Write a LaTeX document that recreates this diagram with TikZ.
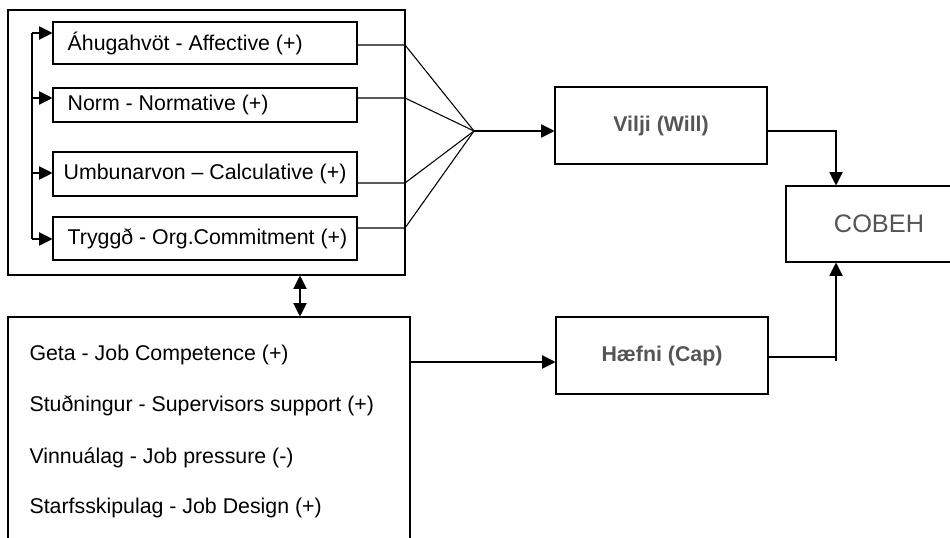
\documentclass[tikz,border=0pt]{standalone}
\usepackage{fontspec}
\setmainfont{Liberation Sans}
\usetikzlibrary{arrows.meta}
\definecolor{labelgray}{HTML}{555555}
\newcommand{\boxtext}[1]{\makebox[206pt][l]{#1}}

\begin{document}
\begin{tikzpicture}[x=0.75pt, y=-0.75pt, line width=0.8pt,
    >={Triangle[length=10pt,width=10pt]},
    box/.style={draw, minimum width=228pt, inner xsep=11pt, font=\fontsize{16}{19}\selectfont},
    frame/.style={draw, inner sep=0pt},
    mid/.style={draw, minimum width=159pt, minimum height=57.75pt, text=labelgray, font=\bfseries\fontsize{16}{19}\selectfont},
    item/.style={anchor=west, inner sep=0pt, font=\fontsize{16}{19}\selectfont}]
				\useasboundingbox (0,0) rectangle (950,538);
				\node [frame, minimum width=297.75pt, minimum height=198.75pt] (motives) at (206.5,142.5) {};
				\node [frame, minimum width=301.5pt, minimum height=189.75pt] (skills) at (209,443.5) {};
				\node [box, minimum height=31.5pt] (aff) at (205,43) {\boxtext{Áhugahvöt - Affective (+)}};
				\node [box, minimum height=25.5pt] (norm) at (205,105) {\boxtext{Norm - Normative (+)}};
				\node [box, minimum height=33pt] (calc) at (205,174) {\boxtext{\hspace{-3pt}Umbunarvon – Calculative (+)}};
				\node [box, minimum height=32.25pt] (org) at (205,238.5) {\boxtext{Tryggð - Org.Commitment (+)}};
				\node [item] (geta) at (29,355) {Geta - Job Competence (+)};
				\node [item] (stud) at (29,406) {Stuðningur - Supervisors support (+)};
				\node [item] (vinna) at (29,458) {Vinnuálag - Job pressure (-)};
				\node [item] (starf) at (29,508) {Starfsskipulag - Job Design (+)};
				\node [mid] (will) at (661,125.5) {Vilji (Will)};
				\node [mid] (cap) at (662,355.5) {Hæfni (Cap)};
				\node [draw, minimum width=139.5pt, minimum height=57pt, text=labelgray, font=\fontsize{19}{22}\selectfont] (cobeh) at (879,224) {COBEH};
				\coordinate (fan) at (474,131);
				\coordinate (rail) at (32,33);
				\draw (rail) -- (32,239);
				\draw [->] (rail) -- (aff.west |- rail);
				\draw [->] (32,98) -- (norm.west |- 0,98);
				\draw [->] (32,173) -- (calc.west |- 0,173);
				\draw [->] (32,239) -- (org.west |- 0,239);
				\draw (aff.east |- 0,45) -- (405,45) -- (fan);
				\draw (norm.east |- 0,98) -- (405,98) -- (fan);
				\draw (calc.east |- 0,183) -- (405,183) -- (fan);
				\draw (org.east |- 0,228) -- (405,228) -- (fan);
				\draw [->] (fan) -- (will.west |- fan);
				\draw [<->] (motives.south -| 300,0) -- (skills.north -| 300,0);
				\draw [->] (skills.east |- 0,362) -- (cap.west |- 0,362);
				\draw [->] (will.east |- fan) -- (836,131) -- (cobeh.north -| 836,0);
				\draw (cap.east |- 0,357) -- (836,357);
				\draw [->] (836,361) -- (cobeh.south -| 836,0);
			\end{tikzpicture}
\end{document}
